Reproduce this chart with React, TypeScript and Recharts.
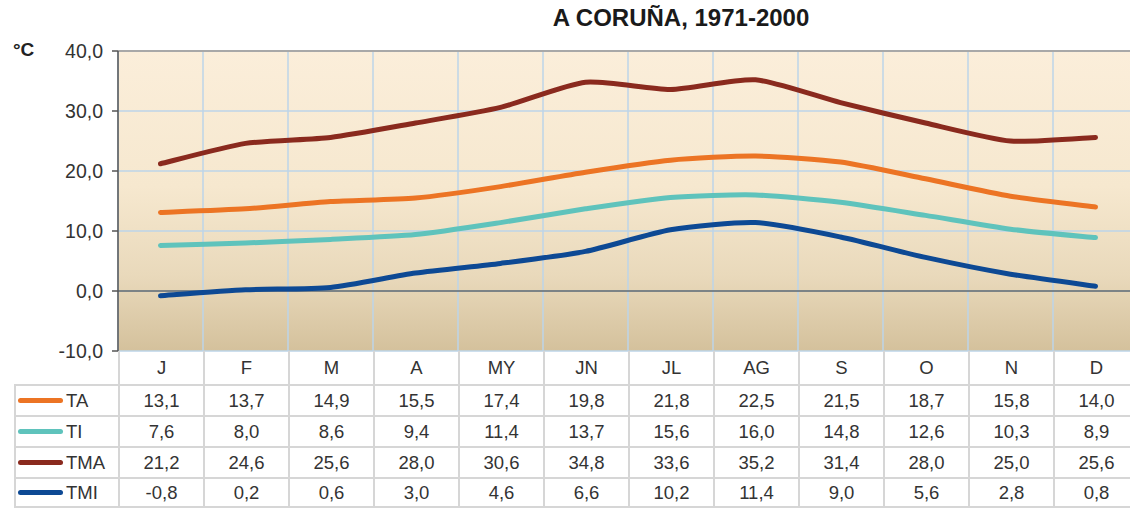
import React from 'react';
import { LineChart, Line, XAxis, YAxis, CartesianGrid, ReferenceLine } from 'recharts';

const title = 'A CORUÑA, 1971-2000';
const unitLabel = '°C';
const months = ['J', 'F', 'M', 'A', 'MY', 'JN', 'JL', 'AG', 'S', 'O', 'N', 'D'];
const TA = [13.1, 13.7, 14.9, 15.5, 17.4, 19.8, 21.8, 22.5, 21.5, 18.7, 15.8, 14.0];
const TI = [7.6, 8.0, 8.6, 9.4, 11.4, 13.7, 15.6, 16.0, 14.8, 12.6, 10.3, 8.9];
const TMA = [21.2, 24.6, 25.6, 28.0, 30.6, 34.8, 33.6, 35.2, 31.4, 28.0, 25.0, 25.6];
const TMI = [-0.8, 0.2, 0.6, 3.0, 4.6, 6.6, 10.2, 11.4, 9.0, 5.6, 2.8, 0.8];
const yTicks = [-10, 0, 10, 20, 30, 40];

const seriesNames = ['TA', 'TI', 'TMA', 'TMI'];
const seriesValues = [TA, TI, TMA, TMI];
const seriesColors = ['#EC7424', '#5FC3BC', '#8A2A1E', '#0D4994'];

const data = months.map((m, i) => ({
  month: m,
  TA: TA[i],
  TI: TI[i],
  TMA: TMA[i],
  TMI: TMI[i],
}));

const fmt = (v: number) => v.toFixed(1).replace('.', ',');

// gentle smoothing (similar to spreadsheet "smoothed line")
const smoothCurve: any = (context: any) => {
  let pts: [number, number][] = [];
  return {
    areaStart() {},
    areaEnd() {},
    lineStart() {
      pts = [];
    },
    point(x: number, y: number) {
      pts.push([+x, +y]);
    },
    lineEnd() {
      if (!pts.length) return;
      context.moveTo(pts[0][0], pts[0][1]);
      const k = 0.11;
      for (let i = 0; i < pts.length - 1; i++) {
        const p0 = pts[i - 1] || pts[i];
        const p1 = pts[i];
        const p2 = pts[i + 1];
        const p3 = pts[i + 2] || pts[i + 1];
        const c1x = p1[0] + (p2[0] - p0[0]) * k;
        const c1y = p1[1] + (p2[1] - p0[1]) * k;
        const c2x = p2[0] - (p3[0] - p1[0]) * k;
        const c2y = p2[1] - (p3[1] - p1[1]) * k;
        context.bezierCurveTo(c1x, c1y, c2x, c2y, p2[0], p2[1]);
      }
    },
  };
};

const FONT = '"Liberation Sans", Arial, sans-serif';
const PLOT_LEFT = 118;
const PLOT_TOP = 51;
const PLOT_H = 300;
const BAND = 85;
const CHART_W = PLOT_LEFT + BAND * months.length + 8;
const TABLE_LEFT = 14;
const HEADER_H = 33;
const ROW_H = 31;
const BORDER = '#d6d6d6';
const TABLE_FONT = 18.5;

export default function App() {
  const vCoords = ({ offset }: any) => {
    const left = offset?.left ?? PLOT_LEFT;
    const width = offset?.width ?? BAND * months.length;
    const arr: number[] = [];
    for (let i = 0; i <= months.length; i++) arr.push(left + (width * i) / months.length);
    return arr;
  };

  const tableTop = PLOT_TOP + PLOT_H;
  const cells: React.ReactNode[] = [];
  months.forEach((m, i) => {
    cells.push(
      <div
        key={'h' + i}
        style={{
          position: 'absolute',
          left: PLOT_LEFT + i * BAND,
          top: tableTop,
          width: BAND,
          height: HEADER_H,
          borderLeft: `2px solid ${BORDER}`,
          boxSizing: 'border-box',
          display: 'flex',
          alignItems: 'center',
          justifyContent: 'center',
          fontSize: TABLE_FONT,
          color: '#333',
        }}
      >
        {m}
      </div>
    );
  });
  seriesNames.forEach((name, r) => {
    const top = tableTop + HEADER_H + r * ROW_H;
    const last = r === seriesNames.length - 1;
    cells.push(
      <div
        key={'l' + r}
        style={{
          position: 'absolute',
          left: TABLE_LEFT,
          top,
          width: PLOT_LEFT - TABLE_LEFT,
          height: ROW_H,
          borderLeft: `2px solid ${BORDER}`,
          borderTop: `2px solid ${BORDER}`,
          borderBottom: last ? `2px solid ${BORDER}` : undefined,
          boxSizing: 'border-box',
          display: 'flex',
          alignItems: 'center',
          fontSize: TABLE_FONT,
          color: '#333',
        }}
      >
        <span
          style={{
            display: 'inline-block',
            width: 45,
            height: 5,
            borderRadius: 3,
            background: seriesColors[r],
            marginLeft: 2,
            marginRight: 3,
          }}
        />
        <span>{name}</span>
      </div>
    );
    seriesValues[r].forEach((v, i) => {
      cells.push(
        <div
          key={'c' + r + '-' + i}
          style={{
            position: 'absolute',
            left: PLOT_LEFT + i * BAND,
            top,
            width: BAND,
            height: ROW_H,
            borderLeft: `2px solid ${BORDER}`,
            borderTop: `2px solid ${BORDER}`,
            borderBottom: last ? `2px solid ${BORDER}` : undefined,
            boxSizing: 'border-box',
            display: 'flex',
            alignItems: 'center',
            justifyContent: 'center',
            fontSize: TABLE_FONT,
            color: '#333',
          }}
        >
          {fmt(v)}
        </div>
      );
    });
  });

  return (
    <div
      style={{
        position: 'absolute',
        left: 0,
        top: 0,
        width: 1130,
        height: 509,
        overflow: 'hidden',
        background: '#ffffff',
        fontFamily: FONT,
      }}
    >
      <div
        style={{
          position: 'absolute',
          left: 0,
          top: 4,
          width: 1362,
          textAlign: 'center',
          fontSize: 24,
          fontWeight: 'bold',
          color: '#1a1a1a',
        }}
      >
        {title}
      </div>
      <div
        style={{
          position: 'absolute',
          left: 13,
          top: 39,
          fontSize: 19,
          fontWeight: 'bold',
          color: '#222',
        }}
      >
        {unitLabel}
      </div>
      <div style={{ position: 'absolute', left: 0, top: 0 }}>
        <LineChart
          width={CHART_W}
          height={PLOT_TOP + PLOT_H + 20}
          data={data}
          margin={{ top: PLOT_TOP, right: 8, left: 0, bottom: 20 }}
        >
          <defs>
            <linearGradient id="bgGrad" x1="0" y1="0" x2="0" y2="1">
              <stop offset="0%" stopColor="#FBEEDA" />
              <stop offset="45%" stopColor="#F6E8CF" />
              <stop offset="75%" stopColor="#E9D9BB" />
              <stop offset="100%" stopColor="#D4C19C" />
            </linearGradient>
          </defs>
          <CartesianGrid
            fill="url(#bgGrad)"
            fillOpacity={1}
            stroke="#BCD4E8"
            strokeWidth={1.5}
            verticalCoordinatesGenerator={vCoords}
          />
          <XAxis dataKey="month" hide padding={{ left: BAND / 2, right: BAND / 2 }} />
          <YAxis
            width={PLOT_LEFT}
            domain={[-10, 40]}
            ticks={yTicks}
            interval={0}
            tickFormatter={fmt}
            axisLine={{ stroke: '#555', strokeWidth: 1.5 }}
            tickLine={{ stroke: '#555', strokeWidth: 1.5 }}
            tickSize={6}
            tickMargin={9}
            tick={{ fill: '#333', fontSize: 19.5, fontFamily: FONT }}
          />
          <ReferenceLine y={40} stroke="#A8A8A8" strokeWidth={2} />
          <ReferenceLine y={0} stroke="#333" strokeWidth={1.2} />
          {seriesNames.map((name, i) => (
            <Line
              key={name}
              type={smoothCurve}
              dataKey={name}
              stroke={seriesColors[i]}
              strokeWidth={5}
              strokeLinecap="round"
              dot={false}
              activeDot={false}
              isAnimationActive={false}
            />
          ))}
        </LineChart>
      </div>
      {cells}
    </div>
  );
}
